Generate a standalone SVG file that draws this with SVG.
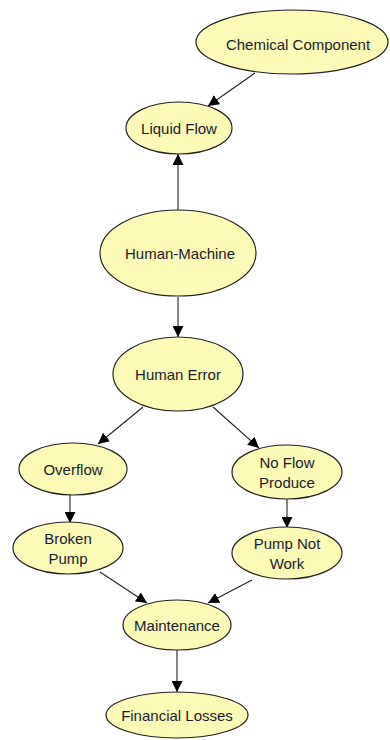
<svg xmlns="http://www.w3.org/2000/svg" width="390" height="740" viewBox="0 0 390 740">
<defs>
<style>
.n ellipse{fill:#fbfab6;stroke:#222;stroke-width:1.2}
.n text{font-family:"Liberation Sans",Arial,sans-serif;font-size:15px;fill:#1a1a2e;text-anchor:middle}
.e line{stroke:#222;stroke-width:1.1}
</style>
<marker id="ah" viewBox="0 0 10 10" refX="10" refY="5" markerWidth="11" markerHeight="11" markerUnits="userSpaceOnUse" orient="auto"><path d="M0,0 L10,5 L0,10 z" fill="#000"/></marker>
</defs>
<rect width="390" height="740" fill="#fff"/>
<g id="connectors" class="e">
<line x1="255" y1="73" x2="208" y2="106" marker-end="url(#ah)"/>
<line x1="178" y1="210" x2="178" y2="154" marker-end="url(#ah)"/>
<line x1="178" y1="297" x2="178" y2="337" marker-end="url(#ah)"/>
<line x1="143" y1="407" x2="98" y2="444" marker-end="url(#ah)"/>
<line x1="213" y1="407" x2="259" y2="448" marker-end="url(#ah)"/>
<line x1="70" y1="495" x2="70" y2="523" marker-end="url(#ah)"/>
<line x1="287" y1="498" x2="287" y2="528" marker-end="url(#ah)"/>
<line x1="100" y1="572" x2="147" y2="603" marker-end="url(#ah)"/>
<line x1="252" y1="580" x2="208" y2="603" marker-end="url(#ah)"/>
<line x1="177" y1="650" x2="177" y2="692" marker-end="url(#ah)"/>
</g>
<g id="chemical" class="n"><ellipse cx="292" cy="42" rx="96" ry="32"/><text x="298" y="50">Chemical Component</text></g>
<g id="liquid" class="n"><ellipse cx="179" cy="128" rx="53" ry="26"/><text x="179" y="134">Liquid Flow</text></g>
<g id="humanmachine" class="n"><ellipse cx="178" cy="253" rx="78" ry="43"/><text x="180" y="259">Human-Machine</text></g>
<g id="humanerror" class="n"><ellipse cx="178" cy="374" rx="65" ry="37"/><text x="178" y="380">Human Error</text></g>
<g id="overflow" class="n"><ellipse cx="73" cy="469" rx="54" ry="26"/><text x="73" y="475">Overflow</text></g>
<g id="noflow" class="n"><ellipse cx="287" cy="472" rx="55" ry="27"/><text x="287" y="468">No Flow</text><text x="287" y="488">Produce</text></g>
<g id="broken" class="n"><ellipse cx="68" cy="548" rx="55" ry="26"/><text x="68" y="544">Broken</text><text x="68" y="564">Pump</text></g>
<g id="pumpnot" class="n"><ellipse cx="287" cy="553" rx="55" ry="26"/><text x="287" y="549">Pump Not</text><text x="287" y="569">Work</text></g>
<g id="maintenance" class="n"><ellipse cx="177" cy="625" rx="54" ry="25"/><text x="177" y="631">Maintenance</text></g>
<g id="financial" class="n"><ellipse cx="177" cy="715" rx="71" ry="23"/><text x="177" y="721">Financial Losses</text></g>
</svg>
